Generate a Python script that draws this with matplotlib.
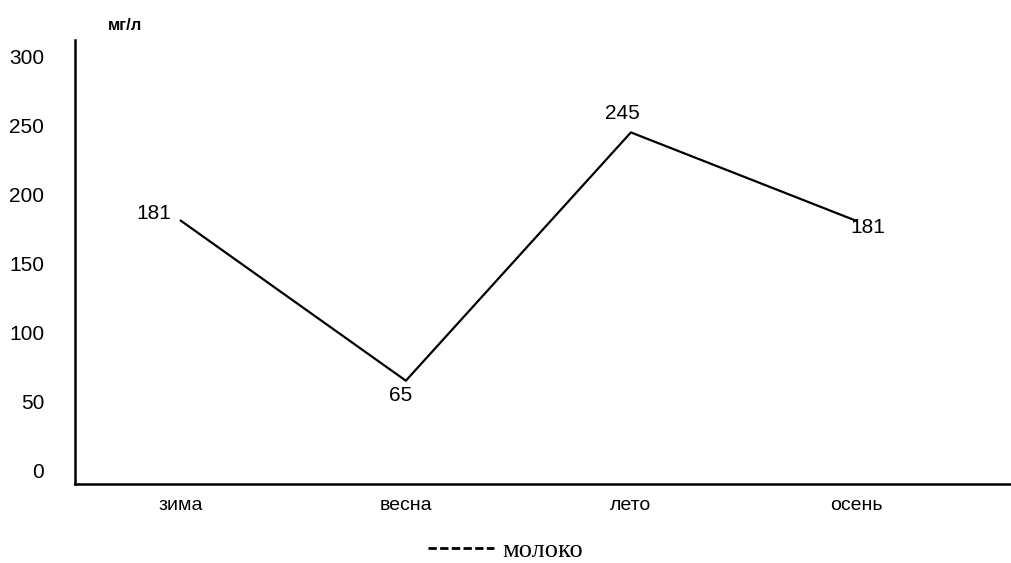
import matplotlib.pyplot as plt
from matplotlib.lines import Line2D

# концентрация по сезонам, мг/л
seasons = ['зима', 'весна', 'лето', 'осень']
milk = [181, 65, 245, 181]
y_ticks = [0, 50, 100, 150, 200, 250, 300]

plt.rcParams['font.family'] = ['Liberation Sans', 'DejaVu Sans']

fig = plt.figure(figsize=(10.11, 5.63), dpi=100)
ax = fig.add_axes([0.074, 0.14, 0.926, 0.789])

x = list(range(len(seasons)))
ax.plot(x, milk, color='black', lw=1.6)

# подписи значений у точек
offsets = [((-7, 5), 'right', 'center'),
           ((-4, -4), 'center', 'top'),
           ((-6, 7), 'center', 'bottom'),
           ((-4, -5), 'left', 'center')]
for xi, v, (off, ha, va) in zip(x, milk, offsets):
    ax.annotate(str(v), (xi, v), xytext=off, textcoords='offset points',
                ha=ha, va=va, fontsize=15)

ax.set_xlim(-0.471, 3.689)
ax.set_ylim(-10, 312)
ax.set_xticks(x)
ax.set_xticklabels(seasons, fontsize=14)
ax.set_yticks(y_ticks)
ax.set_yticklabels([str(t) for t in y_ticks], fontsize=15)
ax.tick_params(length=0)
ax.tick_params(axis='y', pad=22)
ax.tick_params(axis='x', pad=9)

for s in ['top', 'right']:
    ax.spines[s].set_visible(False)
for s in ['left', 'bottom']:
    ax.spines[s].set_linewidth(1.8)

fig.text(0.107, 0.955, 'мг/л', fontsize=12, fontweight='bold', va='center')

handle = Line2D([], [], color='black', lw=2, ls=(0, (3, 1.2)))
fig.legend([handle], ['молоко'], loc='center', bbox_to_anchor=(0.5, 0.022),
           frameon=False, handlelength=2.5, handletextpad=0.3,
           prop={'family': 'Liberation Serif', 'size': 19})

fig.savefig('out.png', dpi=100)
